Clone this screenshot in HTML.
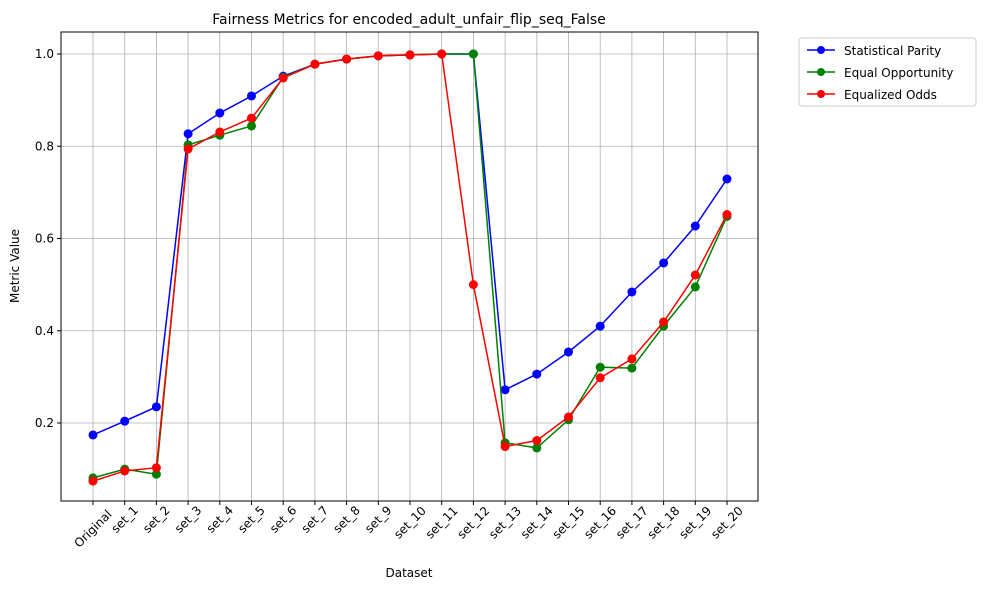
<!DOCTYPE html>
<html><head><meta charset="utf-8">
<style>
body{margin:0;background:#fff;font-family:"Liberation Sans","DejaVu Sans",sans-serif;}
svg text{font-family:"DejaVu Sans","Liberation Sans",sans-serif;}
</style></head>
<body>
<svg id="chart" width="986" height="590" viewBox="0 0 986 590">
<text x="409" y="24" font-size="14" text-anchor="middle">Fairness Metrics for encoded_adult_unfair_flip_seq_False</text>
<g id="grid"></g>
<g id="axes"></g>
<g id="series"></g>
<text x="409" y="577" font-size="12" text-anchor="middle">Dataset</text>
<text x="19" y="266" font-size="12" text-anchor="middle" transform="rotate(-90 19 266)">Metric Value</text>
<g>
<rect x="799" y="38" width="177" height="68" fill="#fff" stroke="#ccc" rx="3"></rect>
<g><line x1="807" y1="50" x2="835" y2="50" stroke="blue" stroke-width="1.5"/><circle cx="821" cy="50" r="4" fill="blue"/><text x="844" y="55" font-size="12">Statistical Parity</text></g>
<g><line x1="807" y1="72" x2="835" y2="72" stroke="green" stroke-width="1.5"/><circle cx="821" cy="72" r="4" fill="green"/><text x="844" y="77" font-size="12">Equal Opportunity</text></g>
<g><line x1="807" y1="94" x2="835" y2="94" stroke="red" stroke-width="1.5"/><circle cx="821" cy="94" r="4" fill="red"/><text x="844" y="99" font-size="12">Equalized Odds</text></g>
</g>
</svg>
<script>
const categories=["Original","set_1","set_2","set_3","set_4","set_5","set_6","set_7","set_8","set_9","set_10","set_11","set_12","set_13","set_14","set_15","set_16","set_17","set_18","set_19","set_20"];
const statisticalParity=[0.174,0.204,0.235,0.827,0.872,0.909,0.952,0.978,0.989,0.996,0.998,1.0,1.0,0.272,0.306,0.354,0.41,0.484,0.547,0.627,0.729];
const equalOpportunity=[0.081,0.100,0.089,0.803,0.824,0.844,0.950,0.978,0.989,0.996,0.998,1.0,1.0,0.157,0.146,0.207,0.321,0.319,0.41,0.495,0.648];
const equalizedOdds=[0.074,0.096,0.103,0.794,0.831,0.861,0.948,0.978,0.989,0.996,0.998,1.0,0.5,0.149,0.162,0.213,0.298,0.339,0.419,0.521,0.652];
const yTicks=[0.2,0.4,0.6,0.8,1.0];
const NS="http://www.w3.org/2000/svg";
const L=61,R=758,T=32,B=501;
function x(i){return 93+i*(727-93)/(categories.length-1);}
function y(v){return 54+(1-v)*461.25;}
function mk(tag,attrs,parent){const e=document.createElementNS(NS,tag);for(const k in attrs)e.setAttribute(k,attrs[k]);parent.appendChild(e);return e;}
const grid=document.getElementById('grid'),axes=document.getElementById('axes'),series=document.getElementById('series');
categories.forEach((c,i)=>{
  const gl=mk('line',{x1:x(i),x2:x(i),y1:T,y2:B,stroke:'#b0b0b0','stroke-width':0.8},grid);
  
  
  mk('line',{x1:x(i),x2:x(i),y1:B,y2:B+4,stroke:'#000'},axes);
  const cy=B+4+c.length*3.1-1;
  const t=mk('text',{x:x(i),y:cy+4,'font-size':12,'text-anchor':'middle',transform:`rotate(-45 ${x(i)} ${cy})`},axes);
  t.textContent=c;
  
  
});
yTicks.forEach(v=>{
  const gl=mk('line',{x1:L,x2:R,y1:y(v),y2:y(v),stroke:'#b0b0b0','stroke-width':0.8},grid);
  
  
  mk('line',{x1:L-4,x2:L,y1:y(v),y2:y(v),stroke:'#000'},axes);
  const t=mk('text',{x:L-7,y:y(v)+4,'font-size':12,'text-anchor':'end'},axes);
  t.textContent=v.toFixed(1);
  
  
});
const frame=mk('rect',{x:L,y:T,width:R-L,height:B-T,fill:'none',stroke:'#000','stroke-width':1},axes);


[[statisticalParity,'blue','statistical-parity'],[equalOpportunity,'green','equal-opportunity'],[equalizedOdds,'red','equalized-odds']].forEach(([d,col,name])=>{
  const g=mk('g',{},series);
  
  
  const p=mk('polyline',{points:d.map((v,i)=>x(i)+','+y(v)).join(' '),fill:'none',stroke:col,'stroke-width':1.5},g);
  
  
  d.forEach((v,i)=>{
    const c=mk('circle',{cx:x(i),cy:y(v),r:4.5,fill:col},g);
    
    
  });
});
</script>
</body></html>
